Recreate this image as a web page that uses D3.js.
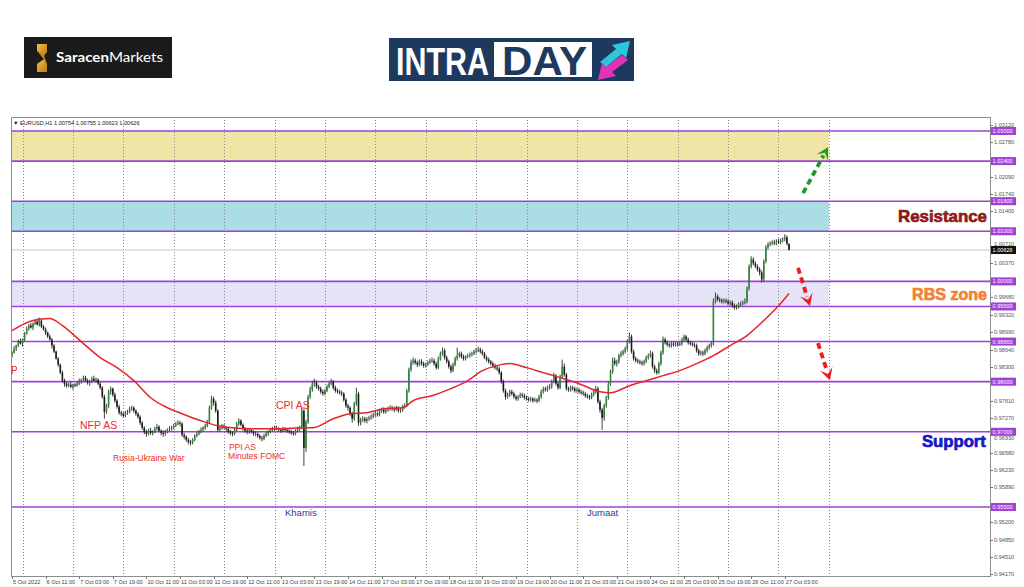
<!DOCTYPE html>
<html><head><meta charset="utf-8">
<script src="https://cdn.jsdelivr.net/npm/d3@7"></script>
<style>html,body{margin:0;padding:0;background:#fff;}svg{display:block}</style>
</head><body>
<svg id="c" width="1024" height="587"></svg>
<script>
// ---------- DATA (EURUSD H1, bar index 0 = 5 Oct 2022) ----------
const open = [
.9852,.9858,.9866,.9872,.9880,.9876,.9884,.9896,.9906,.9912,
.9908,.9916,.9920,.9914,.9922,.9910,.9904,.9898,.9890,.9884,
.9872,.9860,.9846,.9834,.9818,.9802,.9796,.9792,.9794,.9790,
.9794,.9792,.9796,.9800,.9804,.9808,.9802,.9798,.9800,.9806,
.9802,.9804,.9796,.9788,.9770,.9740,.9752,.9780,.9786,.9774,
.9762,.9750,.9738,.9736,.9732,.9738,.9740,.9746,.9748,.9742,
.9736,.9730,.9718,.9708,.9700,.9696,.9702,.9698,.9700,.9706,
.9710,.9702,.9698,.9696,.9700,.9704,.9706,.9708,.9712,.9716,
.9718,.9716,.9694,.9690,.9684,.9680,.9678,.9684,.9692,.9696,
.9700,.9704,.9708,.9712,.9720,.9748,.9766,.9758,.9742,.9704,
.9708,.9712,.9708,.9706,.9700,.9698,.9696,.9704,.9716,.9722,
.9714,.9706,.9702,.9700,.9704,.9700,.9696,.9696,.9692,.9688,
.9686,.9692,.9696,.9700,.9704,.9706,.9708,.9706,.9704,.9702,
.9706,.9704,.9702,.9700,.9698,.9696,.9702,.9706,.9708,.9742,
.9668,.9720,.9770,.9784,.9796,.9798,.9790,.9786,.9780,.9776,
.9782,.9790,.9796,.9800,.9788,.9782,.9780,.9778,.9776,.9764,
.9752,.9748,.9736,.9726,.9756,.9776,.9718,.9724,.9726,.9722,
.9726,.9728,.9730,.9734,.9736,.9734,.9742,.9744,.9740,.9744,
.9746,.9748,.9746,.9744,.9748,.9742,.9744,.9750,.9752,.9782,
.9824,.9838,.9842,.9838,.9834,.9840,.9836,.9832,.9834,.9838,
.9842,.9842,.9836,.9828,.9846,.9856,.9862,.9848,.9840,.9830,
.9822,.9834,.9846,.9852,.9856,.9850,.9846,.9850,.9852,.9854,
.9856,.9860,.9862,.9864,.9860,.9856,.9848,.9844,.9840,.9836,
.9832,.9828,.9826,.9818,.9800,.9782,.9770,.9774,.9780,.9776,
.9770,.9766,.9770,.9774,.9772,.9768,.9766,.9764,.9766,.9762,
.9764,.9762,.9770,.9780,.9786,.9784,.9788,.9790,.9800,.9812,
.9796,.9788,.9810,.9830,.9814,.9786,.9784,.9788,.9786,.9782,
.9784,.9780,.9778,.9776,.9772,.9770,.9768,.9774,.9780,.9786,
.9760,.9744,.9728,.9752,.9768,.9796,.9820,.9842,.9836,.9840,
.9852,.9856,.9860,.9866,.9880,.9890,.9860,.9846,.9842,.9840,
.9838,.9836,.9840,.9848,.9852,.9856,.9830,.9822,.9818,.9836,
.9858,.9884,.9878,.9874,.9872,.9876,.9874,.9876,.9874,.9876,
.9884,.9890,.9884,.9878,.9876,.9874,.9872,.9862,.9856,.9858,
.9856,.9862,.9868,.9872,.9876,.9960,.9970,.9964,.9962,.9960,
.9962,.9960,.9956,.9958,.9952,.9948,.9950,.9954,.9956,.9958,
.9960,.9986,1.0030,1.0044,1.0036,1.0030,1.0024,1.0018,1.0004,1.0040,
1.0068,1.0074,1.0076,1.0078,1.0076,1.0080,1.0078,1.0082,1.0084,1.0088,
1.00754];
const high = [
.9861,.9871,.9874,.9884,.9886,.9886,.9899,.9910,.9915,.9917,
.9918,.9924,.9926,.9928,.9924,.9913,.9908,.9900,.9894,.9887,
.9875,.9862,.9849,.9836,.9822,.9806,.9799,.9798,.9800,.9796,
.9797,.9800,.9806,.9806,.9812,.9812,.9806,.9804,.9810,.9812,
.9808,.9807,.9799,.9791,.9774,.9756,.9784,.9790,.9788,.9778,
.9765,.9754,.9742,.9740,.9742,.9744,.9750,.9752,.9751,.9745,
.9739,.9733,.9721,.9711,.9704,.9706,.9708,.9703,.9710,.9716,
.9713,.9705,.9703,.9704,.9707,.9711,.9712,.9716,.9720,.9723,
.9722,.9719,.9698,.9693,.9688,.9684,.9687,.9695,.9700,.9704,
.9709,.9711,.9716,.9724,.9752,.9772,.9770,.9762,.9745,.9712,
.9716,.9715,.9711,.9709,.9704,.9701,.9708,.9720,.9727,.9725,
.9717,.9710,.9706,.9708,.9707,.9703,.9701,.9699,.9695,.9692,
.9696,.9700,.9703,.9708,.9710,.9712,.9712,.9709,.9707,.9710,
.9709,.9707,.9705,.9704,.9701,.9705,.9710,.9712,.9748,.9746,
.9724,.9774,.9790,.9802,.9806,.9802,.9794,.9790,.9784,.9786,
.9794,.9800,.9806,.9803,.9792,.9786,.9784,.9782,.9779,.9767,
.9756,.9751,.9740,.9760,.9788,.9780,.9728,.9731,.9730,.9729,
.9732,.9735,.9738,.9741,.9740,.9746,.9748,.9749,.9747,.9750,
.9753,.9752,.9750,.9752,.9751,.9748,.9754,.9757,.9786,.9828,
.9844,.9848,.9846,.9842,.9844,.9845,.9840,.9838,.9842,.9846,
.9848,.9846,.9840,.9850,.9860,.9868,.9866,.9852,.9844,.9834,
.9838,.9850,.9868,.9860,.9860,.9854,.9853,.9856,.9858,.9860,
.9864,.9867,.9870,.9868,.9864,.9859,.9852,.9848,.9843,.9840,
.9836,.9832,.9830,.9821,.9804,.9786,.9778,.9784,.9784,.9780,
.9774,.9773,.9778,.9778,.9776,.9772,.9770,.9770,.9769,.9768,
.9767,.9774,.9784,.9790,.9790,.9792,.9795,.9804,.9818,.9815,
.9800,.9814,.9844,.9836,.9818,.9790,.9792,.9792,.9790,.9788,
.9787,.9784,.9782,.9780,.9776,.9774,.9778,.9784,.9792,.9790,
.9764,.9748,.9756,.9772,.9800,.9824,.9848,.9848,.9844,.9856,
.9861,.9864,.9870,.9884,.9898,.9894,.9864,.9850,.9846,.9844,
.9842,.9844,.9852,.9856,.9862,.9860,.9834,.9826,.9840,.9862,
.9890,.9888,.9882,.9878,.9880,.9880,.9880,.9879,.9880,.9888,
.9894,.9893,.9888,.9882,.9880,.9878,.9876,.9866,.9862,.9862,
.9866,.9872,.9876,.9880,.9966,.9978,.9974,.9968,.9966,.9966,
.9966,.9964,.9962,.9962,.9956,.9954,.9958,.9960,.9962,.9966,
.9990,1.0034,1.0050,1.0048,1.0040,1.0034,1.0028,1.0022,1.0044,1.0072,
1.0078,1.0080,1.0082,1.0083,1.0084,1.0085,1.0086,1.0088,1.0094,1.0092,
1.00755];
const low = [
.9848,.9856,.9861,.9869,.9874,.9870,.9881,.9894,.9902,.9906,
.9903,.9913,.9912,.9910,.9907,.9902,.9893,.9887,.9882,.9866,
.9857,.9844,.9830,.9815,.9798,.9790,.9788,.9789,.9787,.9784,
.9789,.9790,.9793,.9796,.9801,.9799,.9794,.9792,.9797,.9800,
.9798,.9793,.9784,.9766,.9726,.9736,.9748,.9774,.9770,.9758,
.9746,.9734,.9731,.9728,.9729,.9734,.9737,.9742,.9738,.9732,
.9726,.9714,.9704,.9695,.9690,.9693,.9694,.9693,.9697,.9703,
.9699,.9693,.9690,.9692,.9697,.9701,.9702,.9705,.9709,.9713,
.9711,.9690,.9685,.9680,.9675,.9673,.9675,.9681,.9689,.9693,
.9697,.9700,.9704,.9709,.9717,.9744,.9752,.9738,.9700,.9700,
.9704,.9705,.9701,.9696,.9693,.9691,.9693,.9701,.9712,.9711,
.9702,.9698,.9695,.9696,.9697,.9692,.9691,.9688,.9684,.9681,
.9683,.9689,.9692,.9697,.9701,.9702,.9703,.9700,.9698,.9699,
.9700,.9698,.9696,.9694,.9692,.9693,.9699,.9702,.9705,.9632,
.9660,.9716,.9766,.9780,.9790,.9786,.9782,.9776,.9772,.9773,
.9779,.9787,.9793,.9784,.9778,.9776,.9774,.9771,.9760,.9748,
.9742,.9731,.9718,.9722,.9752,.9712,.9713,.9720,.9718,.9717,
.9722,.9724,.9727,.9730,.9730,.9731,.9738,.9736,.9736,.9740,
.9742,.9742,.9739,.9741,.9738,.9738,.9740,.9746,.9749,.9778,
.9820,.9834,.9834,.9829,.9831,.9832,.9828,.9828,.9831,.9835,
.9838,.9832,.9824,.9825,.9842,.9852,.9844,.9836,.9826,.9817,
.9819,.9831,.9842,.9848,.9846,.9842,.9842,.9847,.9848,.9850,
.9853,.9856,.9859,.9856,.9852,.9845,.9840,.9836,.9832,.9828,
.9824,.9821,.9814,.9796,.9778,.9764,.9766,.9770,.9772,.9766,
.9762,.9762,.9767,.9768,.9764,.9762,.9760,.9760,.9758,.9759,
.9757,.9759,.9766,.9776,.9780,.9780,.9784,.9786,.9797,.9792,
.9784,.9785,.9806,.9810,.9782,.9780,.9780,.9782,.9778,.9778,
.9776,.9774,.9772,.9768,.9766,.9764,.9765,.9771,.9776,.9756,
.9738,.9704,.9722,.9748,.9764,.9792,.9816,.9832,.9830,.9836,
.9848,.9852,.9856,.9862,.9876,.9856,.9842,.9838,.9836,.9834,
.9832,.9832,.9837,.9844,.9848,.9826,.9817,.9814,.9815,.9832,
.9854,.9874,.9870,.9868,.9868,.9870,.9870,.9870,.9871,.9872,
.9880,.9880,.9874,.9872,.9870,.9868,.9858,.9852,.9852,.9851,
.9853,.9858,.9864,.9868,.9872,.9956,.9960,.9958,.9956,.9956,
.9956,.9952,.9952,.9948,.9944,.9944,.9946,.9950,.9952,.9954,
.9956,.9982,1.0026,1.0032,1.0026,1.0020,1.0012,.9998,1.0000,1.0036,
1.0064,1.0070,1.0072,1.0072,1.0072,1.0074,1.0074,1.0078,1.0080,1.0072,
1.00623];
const close = [
.9858,.9866,.9872,.9880,.9876,.9884,.9896,.9906,.9912,.9908,
.9916,.9920,.9914,.9922,.9910,.9904,.9898,.9890,.9884,.9872,
.9860,.9846,.9834,.9818,.9802,.9796,.9792,.9794,.9790,.9794,
.9792,.9796,.9800,.9804,.9808,.9802,.9798,.9800,.9806,.9802,
.9804,.9796,.9788,.9770,.9740,.9752,.9780,.9786,.9774,.9762,
.9750,.9738,.9736,.9732,.9738,.9740,.9746,.9748,.9742,.9736,
.9730,.9718,.9708,.9700,.9696,.9702,.9698,.9700,.9706,.9710,
.9702,.9698,.9696,.9700,.9704,.9706,.9708,.9712,.9716,.9718,
.9716,.9694,.9690,.9684,.9680,.9678,.9684,.9692,.9696,.9700,
.9704,.9708,.9712,.9720,.9748,.9766,.9758,.9742,.9704,.9708,
.9712,.9708,.9706,.9700,.9698,.9696,.9704,.9716,.9722,.9714,
.9706,.9702,.9700,.9704,.9700,.9696,.9696,.9692,.9688,.9686,
.9692,.9696,.9700,.9704,.9706,.9708,.9706,.9704,.9702,.9706,
.9704,.9702,.9700,.9698,.9696,.9702,.9706,.9708,.9742,.9668,
.9720,.9770,.9784,.9796,.9798,.9790,.9786,.9780,.9776,.9782,
.9790,.9796,.9800,.9788,.9782,.9780,.9778,.9776,.9764,.9752,
.9748,.9736,.9726,.9756,.9776,.9718,.9724,.9726,.9722,.9726,
.9728,.9730,.9734,.9736,.9734,.9742,.9744,.9740,.9744,.9746,
.9748,.9746,.9744,.9748,.9742,.9744,.9750,.9752,.9782,.9824,
.9838,.9842,.9838,.9834,.9840,.9836,.9832,.9834,.9838,.9842,
.9842,.9836,.9828,.9846,.9856,.9862,.9848,.9840,.9830,.9822,
.9834,.9846,.9852,.9856,.9850,.9846,.9850,.9852,.9854,.9856,
.9860,.9862,.9864,.9860,.9856,.9848,.9844,.9840,.9836,.9832,
.9828,.9826,.9818,.9800,.9782,.9770,.9774,.9780,.9776,.9770,
.9766,.9770,.9774,.9772,.9768,.9766,.9764,.9766,.9762,.9764,
.9762,.9770,.9780,.9786,.9784,.9788,.9790,.9800,.9812,.9796,
.9788,.9810,.9830,.9814,.9786,.9784,.9788,.9786,.9782,.9784,
.9780,.9778,.9776,.9772,.9770,.9768,.9774,.9780,.9786,.9760,
.9744,.9728,.9752,.9768,.9796,.9820,.9842,.9836,.9840,.9852,
.9856,.9860,.9866,.9880,.9890,.9860,.9846,.9842,.9840,.9838,
.9836,.9840,.9848,.9852,.9856,.9830,.9822,.9818,.9836,.9858,
.9884,.9878,.9874,.9872,.9876,.9874,.9876,.9874,.9876,.9884,
.9890,.9884,.9878,.9876,.9874,.9872,.9862,.9856,.9858,.9856,
.9862,.9868,.9872,.9876,.9960,.9970,.9964,.9962,.9960,.9962,
.9960,.9956,.9958,.9952,.9948,.9950,.9954,.9956,.9958,.9960,
.9986,1.0030,1.0044,1.0036,1.0030,1.0024,1.0018,1.0004,1.0040,1.0068,
1.0074,1.0076,1.0078,1.0076,1.0080,1.0078,1.0082,1.0084,1.0088,1.00754,
1.00626];

// moving average (red line), read at sample bars
const maBars   = [0,10,18,24,34,42,50,58,66,74,81,90,98,105,113,121,129,137,143,153,161,169,177,186,191,200,209,217,224,231,237,245,253,261,270,280,285,294,302,310,318,326,334,342,350,358,366,370];
const maValues = [.9902,.9922,.9926,.9912,.9876,.9848,.9828,.9802,.9768,.9748,.9736,.9722,.9712,.9708,.9706,.9706,.9706,.9708,.9708,.9726,.9736,.9738,.9746,.9748,.9762,.9772,.9786,.9802,.9822,.9832,.9836,.9828,.9818,.9808,.9796,.9780,.9778,.9792,.9802,.9812,.9822,.9836,.9852,.9872,.9892,.9922,.9956,.9976];

// horizontal levels and zones
const levels   = [1.030,1.024,1.016,1.010,1.000,0.995,0.988,0.980,0.970,0.955];
const zoneLow  = [1.024,1.010,0.995];
const zoneHigh = [1.030,1.016,1.000];
const zoneEndBar = 389;
const lastPrice = 1.00626;

// price axis tick labels
const priceTicks = [1.0312,1.0278,1.0209,1.0174,1.0140,1.0071,1.0037,0.9968,0.9932,0.9899,0.9864,0.9830,0.9761,0.9727,0.9693,0.9658,0.9623,0.9589,0.9520,0.9485,0.9451,0.9417];

// time axis labels (every 16 bars)
const timeLabels = ["5 Oct 2022","6 Oct 11:00","7 Oct 03:00","7 Oct 19:00","10 Oct 11:00","11 Oct 03:00","11 Oct 19:00","12 Oct 11:00","13 Oct 03:00","13 Oct 19:00","14 Oct 11:00","17 Oct 03:00","17 Oct 19:00","18 Oct 11:00","19 Oct 03:00","19 Oct 19:00","20 Oct 11:00","21 Oct 03:00","21 Oct 19:00","24 Oct 11:00","25 Oct 03:00","25 Oct 19:00","26 Oct 11:00","27 Oct 03:00"];

// annotations (bar, price of baseline)
const noteText  = ["P","NFP AS","Rusia-Ukraine War","PPI AS","Minutes FOMC","CPI AS","Khamis","Jumaat"];
const noteBar   = [-0.5,32.4,48.1,103.3,102.9,125.7,130,273.8];
const notePrice = [0.98153,0.97055,0.96417,0.96637,0.96457,0.97461,0.9532,0.9532];

const zoneLabels = ["Resistance","RBS zone","Support"];
const zoneLabelBar = [421.9,428.6,433.3];
const zoneLabelPrice = [1.01185,0.99629,0.96696];

// forecast arrows
const arrowFromBar = [376.7,374.3,383.8];
const arrowFromPrice = [1.0176,1.0027,0.9877];
const arrowToBar = [388.6,380.0,389.5];
const arrowToPrice = [1.0268,0.9951,0.9803];

// ---------- DRAW ----------
const svg = d3.select("#c");
const L = 11, R = 990, T = 117, B = 576;
const x = d3.scaleLinear().domain([0, 466]).range([12, 990.6]);
const y = d3.scaleLinear().domain([0.955, 1.03]).range([507, 131]);
const FONT = "'Liberation Sans', Arial, sans-serif";

// Logos
const lg = svg.append("g");
lg.append("rect").attr("x",24).attr("y",37).attr("width",148).attr("height",41).attr("fill","#1b1b1b");
const gold = svg.append("defs").append("linearGradient").attr("id","gold").attr("x1",0).attr("y1",0).attr("x2",1).attr("y2",1);
gold.append("stop").attr("offset","0").attr("stop-color","#f3c04a");
gold.append("stop").attr("offset","1").attr("stop-color","#b87818");
lg.append("path").attr("d","M37,44 L47,44 L47,52 L44,56 L37,51 Z").attr("fill","url(#gold)");
lg.append("path").attr("d","M44,59 L37,64 L37,72 L47,72 L47,64 Z").attr("fill","url(#gold)");
lg.append("path").attr("d","M37,51 L44,56 L47,64 L44,59 Z").attr("fill","#d99a2a");
const st = lg.append("text").attr("x",56).attr("y",62).attr("font-family","Lato, 'Open Sans', sans-serif")
  .attr("font-size",13.5).attr("fill","#fff").attr("textLength",107).attr("lengthAdjust","spacingAndGlyphs");
st.append("tspan").attr("font-weight",700).text("Saracen");
st.append("tspan").attr("font-weight",400).text("Markets");

lg.append("rect").attr("x",389).attr("y",38).attr("width",245).attr("height",43).attr("fill","#1d3a5e");
lg.append("text").attr("transform","translate(396,75) scale(1,1.3)").attr("font-family",FONT).attr("font-weight",700).attr("font-size",30.5)
  .attr("fill","#fff").attr("textLength",93).attr("lengthAdjust","spacingAndGlyphs").text("INTRA");
lg.append("rect").attr("x",494).attr("y",42).attr("width",98).attr("height",35).attr("fill","#fff");
lg.append("text").attr("x",502).attr("y",75).attr("font-family",FONT).attr("font-weight",700).attr("font-size",40)
  .attr("fill","#1d3a5e").attr("textLength",85).attr("lengthAdjust","spacingAndGlyphs").text("DAY");
lg.append("path").attr("d","M600,62 L616,49 L612,45 L630,41 L626,58 L622,54 L606,67 Z").attr("fill","#2cc6d8");
lg.append("path").attr("d","M628,60 L612,72 L616,76 L598,80 L602,63 L606,67 L622,55 Z").attr("fill","#e233b8");

// clip
svg.append("defs").append("clipPath").attr("id","clip").append("rect")
  .attr("x",L).attr("y",T).attr("width",R-L).attr("height",B-T);
const plot = svg.append("g").attr("clip-path","url(#clip)");

// zones
const zoneColors = ["#efe5a6","#aadde4","#e5e3f8"];
plot.selectAll("rect.zone").data(zoneLow).join("rect").attr("class","zone")
  .attr("x",L).attr("width",(d)=>x(zoneEndBar)-L)
  .attr("y",(d,i)=>y(zoneHigh[i])).attr("height",(d,i)=>y(zoneLow[i])-y(zoneHigh[i]))
  .attr("fill",(d,i)=>zoneColors[i]);

// vertical dotted grid
plot.selectAll("line.grid").data(d3.range(5, zoneEndBar+1, 24)).join("line")
  .attr("x1",d=>Math.round(x(d))+0.5).attr("x2",d=>Math.round(x(d))+0.5).attr("y1",T).attr("y2",B)
  .attr("stroke","#8a8a8a").attr("stroke-width",1).attr("stroke-dasharray","1,2");

// current price line
plot.append("line").attr("x1",L).attr("x2",R).attr("y1",y(lastPrice)).attr("y2",y(lastPrice))
  .attr("stroke","#c8c8c8").attr("stroke-width",1);

// level lines
plot.selectAll("line.lvl").data(levels).join("line")
  .attr("x1",L).attr("x2",R).attr("y1",d=>y(d)).attr("y2",d=>y(d))
  .attr("stroke","#a040d8").attr("stroke-width",1.6);

// candles
const idx = d3.range(close.length);
const cg = plot.append("g");
cg.selectAll("line.w").data(idx).join("line")
  .attr("x1",i=>x(i)).attr("x2",i=>x(i)).attr("y1",i=>y(high[i])).attr("y2",i=>y(low[i]))
  .attr("stroke","#2a2a2a").attr("stroke-width",0.9);
cg.selectAll("rect.b").data(idx).join("rect")
  .attr("x",i=>x(i)-0.8).attr("width",1.6)
  .attr("y",i=>y(Math.max(open[i],close[i])))
  .attr("height",i=>Math.max(0.8, Math.abs(y(open[i])-y(close[i]))))
  .attr("fill",i=>close[i]>=open[i]?"#2f8a36":"#1a1a1a");

// moving average
plot.append("path").datum(maBars)
  .attr("d", d3.line().x(d=>x(d)).y((d,i)=>y(maValues[i])).curve(d3.curveMonotoneX))
  .attr("fill","none").attr("stroke","#e2262b").attr("stroke-width",1.5);

// frame
svg.append("path").attr("d",`M${L+0.5},${B+0.5} L${L+0.5},${T+0.5} L${R+0.5},${T+0.5} L${R+0.5},${B+0.5} L${L+0.5},${B+0.5}`)
  .attr("fill","none").attr("stroke","#8c8c8c").attr("stroke-width",1);

// header
svg.append("text").attr("x",13).attr("y",125).attr("font-family",FONT).attr("font-size",5.6).attr("fill","#222")
  .text("\u25BC EURUSD,H1  1.00754 1.00755 1.00623 1.00626");

// price axis (tick labels nudged off the level tags they would hide under)
const fmt = d3.format(".5f");
const tagYs = levels.map(l=>y(l)).concat([y(lastPrice)]);
const tickY = d => {
  let yy = y(d);
  tagYs.forEach(t => { if (Math.abs(yy - t) < 6.5) yy = t + (yy >= t ? 6.5 : -6.5); });
  return yy;
};
const pa = svg.append("g");
pa.selectAll("line").data(priceTicks).join("line")
  .attr("x1",R).attr("x2",R+3).attr("y1",d=>Math.round(y(d))+0.5).attr("y2",d=>Math.round(y(d))+0.5).attr("stroke","#777");
pa.selectAll("text").data(priceTicks).join("text")
  .attr("x",R+4).attr("y",d=>tickY(d)+2).attr("font-family",FONT).attr("font-size",5.6).attr("fill","#555").text(d=>fmt(d));
const lvlG = svg.append("g");
lvlG.selectAll("rect").data(levels).join("rect")
  .attr("x",R+1).attr("y",d=>y(d)-4).attr("width",25).attr("height",8).attr("fill","#a040d8");
lvlG.selectAll("text").data(levels).join("text")
  .attr("x",R+2.5).attr("y",d=>y(d)+2).attr("font-family",FONT).attr("font-size",5.6).attr("fill","#fff").text(d=>fmt(d));
svg.append("rect").attr("x",R+1).attr("y",y(lastPrice)-4).attr("width",25).attr("height",8).attr("fill","#111");
svg.append("text").attr("x",R+2.5).attr("y",y(lastPrice)+2).attr("font-family",FONT).attr("font-size",5.6).attr("fill","#fff").text(fmt(lastPrice));

// time axis
const ta = svg.append("g");
ta.selectAll("line").data(timeLabels).join("line")
  .attr("x1",(d,i)=>Math.round(x(i*16))+0.5).attr("x2",(d,i)=>Math.round(x(i*16))+0.5).attr("y1",B).attr("y2",B+3).attr("stroke","#777");
ta.selectAll("text").data(timeLabels).join("text")
  .attr("x",(d,i)=>x(i*16)+1).attr("y",584).attr("font-family",FONT).attr("font-size",5.6).attr("fill","#444").text(d=>d);

// annotations
const noteColor = ["#e8302a","#e8302a","#e8302a","#e8302a","#e8302a","#e8302a","#2a3c94","#2a3c94"];
const noteSize = [10,10.5,8.5,8.5,8.5,10.5,9.5,9.5];
svg.selectAll("text.note").data(noteText).join("text").attr("class","note")
  .attr("x",(d,i)=>x(noteBar[i])).attr("y",(d,i)=>y(notePrice[i]))
  .attr("font-family",FONT).attr("font-size",(d,i)=>noteSize[i]).attr("fill",(d,i)=>noteColor[i]).text(d=>d);

const zlColor = ["#8e1b1b","#f08234","#1818c8"];
const zlLen = [89,75,64];
svg.selectAll("text.zl").data(zoneLabels).join("text").attr("class","zl")
  .attr("x",(d,i)=>x(zoneLabelBar[i])).attr("y",(d,i)=>y(zoneLabelPrice[i]))
  .attr("font-family",FONT).attr("font-weight",900).attr("font-size",17).attr("fill",(d,i)=>zlColor[i])
  .attr("stroke",(d,i)=>zlColor[i]).attr("stroke-width",0.7)
  .attr("textLength",(d,i)=>zlLen[i]).attr("lengthAdjust","spacingAndGlyphs").text(d=>d);

// arrows
const arrowColor = ["#1f9a2a","#ee1c1c","#ee1c1c"];
const ag = svg.append("g");
arrowFromBar.forEach((fb,i)=>{
  const x1=x(fb), y1=y(arrowFromPrice[i]), x2=x(arrowToBar[i]), y2=y(arrowToPrice[i]);
  const a=Math.atan2(y2-y1,x2-x1), head=12;
  const ex=x2-Math.cos(a)*head*0.8, ey=y2-Math.sin(a)*head*0.8;
  ag.append("line").attr("x1",x1).attr("y1",y1).attr("x2",ex).attr("y2",ey)
    .attr("stroke",arrowColor[i]).attr("stroke-width",3.8).attr("stroke-dasharray","6,4");
  const px=-Math.sin(a), py=Math.cos(a);
  const bx=x2-Math.cos(a)*head, by=y2-Math.sin(a)*head;
  const nx=x2-Math.cos(a)*head*0.55, ny=y2-Math.sin(a)*head*0.55;
  ag.append("path").attr("d",`M${x2},${y2} L${bx+px*6.5},${by+py*6.5} L${nx},${ny} L${bx-px*6.5},${by-py*6.5} Z`)
    .attr("fill",arrowColor[i]);
});
</script>
</body></html>
